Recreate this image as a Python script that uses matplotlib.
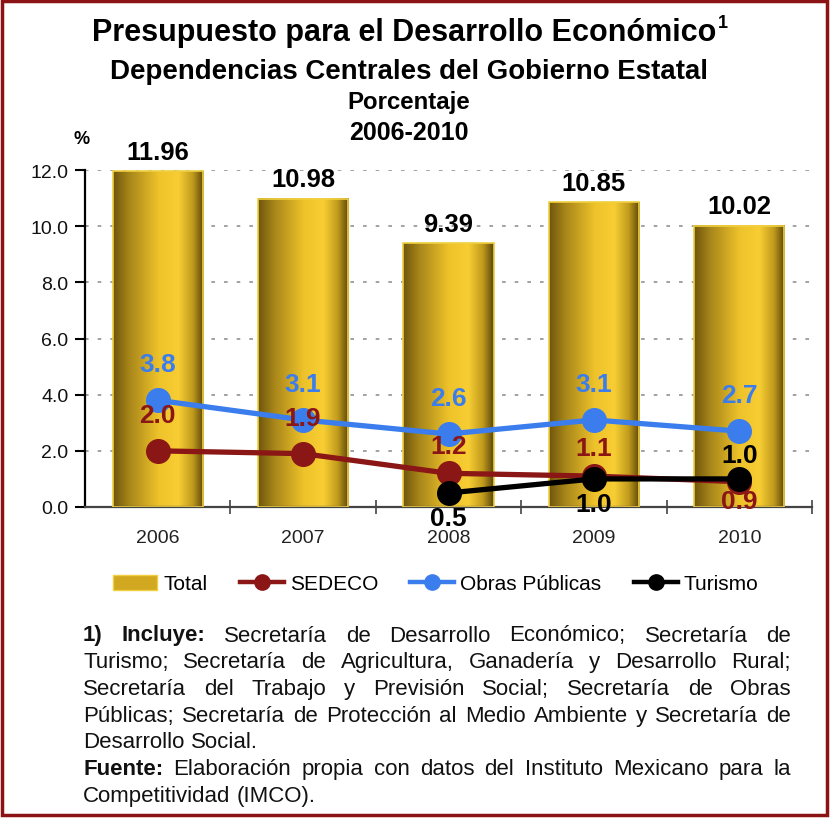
import numpy as np
import matplotlib
matplotlib.use('Agg')
import matplotlib.pyplot as plt
from matplotlib import font_manager
from matplotlib.colors import LinearSegmentedColormap
from matplotlib.patches import Patch, Rectangle
from matplotlib.lines import Line2D

#================ DATA =========================================================

years   = ['2006', '2007', '2008', '2009', '2010']
total   = [11.96, 10.98, 9.39, 10.85, 10.02]
sedeco  = [2.0, 1.9, 1.2, 1.1, 0.9]
obras   = [3.8, 3.1, 2.6, 3.1, 2.7]
turismo = [np.nan, np.nan, 0.5, 1.0, 1.0]

series_names = ['Total', 'SEDECO', 'Obras Públicas', 'Turismo']

title    = 'Presupuesto para el Desarrollo Económico'
subtitle = 'Dependencias Centrales del Gobierno Estatal'
unit     = 'Porcentaje'
period   = '2006-2010'

# footnote lines: (text, number of bold leading words, justified?)
note_lines = [
    ("1) Incluye: Secretaría de Desarrollo Económico; Secretaría de", 2, True),
    ("Turismo; Secretaría de Agricultura, Ganadería y Desarrollo Rural;", 0, True),
    ("Secretaría del Trabajo y Previsión Social; Secretaría de Obras", 0, True),
    ("Públicas; Secretaría de Protección al Medio Ambiente y Secretaría de", 0, True),
    ("Desarrollo Social.", 0, False),
    ("Fuente: Elaboración propia con datos del Instituto Mexicano para la", 1, True),
    ("Competitividad (IMCO).", 0, False),
]

#================ STYLE ========================================================

def pick(fams):
    for f in fams:
        try:
            font_manager.findfont(font_manager.FontProperties(family=f),
                                  fallback_to_default=False)
            return f, True
        except Exception:
            pass
    return 'Liberation Sans', False

NARROW, has_narrow = pick(['Liberation Sans Narrow', 'Arial Narrow'])
nscale = 1.0 if has_narrow else 0.9
REG = 'Liberation Sans'

blue  = '#3b7ded'
red   = '#8a1616'
black = '#000000'

# label offsets in points (positive = above the marker)
off_obras   = [26, 26, 26, 26, 26]
off_sedeco  = [26, 26, 20, 20, -14]
off_turismo = [0, 0, -18, -18, 17]

fig = plt.figure(figsize=(8.3, 8.2), dpi=100)
W, H = 830.0, 820.0

ax = fig.add_axes([85/W, 1-508/H, 727/W, 337/H])

x = np.arange(len(years))
w = 0.62

gold = LinearSegmentedColormap.from_list('gold', [
    (0.0, '#6f560c'), (0.18, '#a8861a'), (0.5, '#eec22a'),
    (0.72, '#f8ce34'), (0.88, '#c09a1c'), (1.0, '#5a440a')])
grad = np.linspace(0, 1, 256).reshape(1, -1)

for i, v in enumerate(total):
    ax.imshow(grad, cmap=gold, extent=[i - w/2, i + w/2, 0, v],
              aspect='auto', zorder=2, interpolation='bicubic')
    ax.bar(i, v, w, facecolor='none', edgecolor='#f0d040', lw=1.2, zorder=3)
    ax.annotate('%.2f' % v, (i, v), xytext=(0, 9), textcoords='offset points',
                ha='center', va='baseline', fontsize=20.5*nscale,
                fontweight='bold', family=NARROW, zorder=8)

ms = 17
lw = 3.8
ax.plot(x, obras, color=blue, lw=lw, marker='o', ms=ms, zorder=5)
ax.plot(x, sedeco, color=red, lw=lw, marker='o', ms=ms, zorder=6)
ax.plot(x, turismo, color=black, lw=lw, marker='o', ms=ms, zorder=7)

def labels(vals, offs, col):
    for i, v in enumerate(vals):
        if np.isnan(v):
            continue
        ax.annotate('%.1f' % v, (i, v), xytext=(0, offs[i]),
                    textcoords='offset points', ha='center', va='center',
                    fontsize=21*nscale, fontweight='bold', color=col,
                    family=NARROW, zorder=9)

labels(obras, off_obras, blue)
labels(sedeco, off_sedeco, red)
labels(turismo, off_turismo, black)

ax.set_xlim(-0.5, len(years) - 0.5)
ax.set_ylim(0, 12)
ax.set_yticks(np.arange(0, 12.1, 2))
ax.set_yticklabels(['%.1f' % t for t in np.arange(0, 12.1, 2)])
ax.set_xticks(x)
ax.set_xticklabels(years)
ax.set_xticks(x + 0.5, minor=True)
ax.tick_params(axis='x', which='major', length=0, pad=16, labelsize=14,
               labelcolor='#222222')
ax.tick_params(axis='x', which='minor', length=10, direction='inout',
               width=1.2, color='#444444')
ax.tick_params(axis='y', length=7, width=1.5, pad=5, labelsize=14,
               labelcolor='#111111')
for lab in ax.get_xticklabels() + ax.get_yticklabels():
    lab.set_family(REG)

ax.yaxis.grid(True, linestyle=(0, (2, 5)), color='#9a9a9a', lw=1.3)
ax.set_axisbelow(True)
for s in ['top', 'right']:
    ax.spines[s].set_visible(False)
ax.spines['left'].set_linewidth(1.6)
ax.spines['bottom'].set_linewidth(1.6)
ax.spines['bottom'].set_color('#444444')

# unit symbol
fig.text(82/W, 1-140/H, '%', ha='center', va='center', fontsize=13,
         fontweight='bold', family=REG)

#================ TITLES =======================================================

cx = 409/W
t = fig.text(cx - 5/W, 1-33/H, title, ha='center', va='center',
             fontsize=22*nscale/0.9, fontweight='bold', family=NARROW)
fig.text(cx, 1-72/H, subtitle, ha='center', va='center',
         fontsize=19.9*nscale/0.9, fontweight='bold', family=NARROW)
fig.text(cx, 1-103/H, unit, ha='center', va='center',
         fontsize=17.3*nscale/0.9, fontweight='bold', family=NARROW)
fig.text(cx, 1-133/H, period, ha='center', va='center',
         fontsize=18*nscale/0.9, fontweight='bold', family=NARROW)

renderer = fig.canvas.get_renderer()
bb = t.get_window_extent(renderer)
fig.text((bb.x1 + 2)/W, 1-24/H, '1', ha='left', va='center',
         fontsize=13*nscale/0.9, fontweight='bold', family=NARROW)

#================ LEGEND =======================================================

handles = [
    Patch(facecolor='#d2a820', edgecolor='#f0d040'),
    Line2D([], [], color=red, lw=3.2, marker='o', ms=11),
    Line2D([], [], color=blue, lw=3.2, marker='o', ms=11),
    Line2D([], [], color=black, lw=3.2, marker='o', ms=11),
]
fig.legend(handles, series_names, loc='center', bbox_to_anchor=(436/W, 1-585/H),
           ncol=4, frameon=False, prop={'family': REG, 'size': 15},
           handlelength=2.1, handletextpad=0.3, columnspacing=1.55)

#================ FOOTNOTE =====================================================

left, right = 83.0, 791.0
y0, dy = 636.0, 26.7
fs = 16

sp = fig.text(0, 0, 'a a', fontsize=fs, family=REG)
sa = fig.text(0, 0, 'aa', fontsize=fs, family=REG)
space = sp.get_window_extent(renderer).width - sa.get_window_extent(renderer).width
sp.remove()
sa.remove()

for k, (line, nbold, justify) in enumerate(note_lines):
    words = line.split(' ')
    y = 1 - (y0 + k*dy)/H
    objs = []
    widths = []
    for j, wd in enumerate(words):
        o = fig.text(0, y, wd, ha='left', va='center', fontsize=fs, family=REG,
                     fontweight='bold' if j < nbold else 'normal',
                     color='#111111')
        objs.append(o)
        widths.append(o.get_window_extent(renderer).width)
    if justify and len(words) > 1:
        gap = (right - left - sum(widths)) / (len(words) - 1)
    else:
        gap = space
    xp = left
    for o, wdt in zip(objs, widths):
        o.set_x(xp/W)
        xp += wdt + gap

# frame
fig.patches.append(Rectangle((2/W, 4/H), 825/W, 814/H, transform=fig.transFigure,
                             fill=False, edgecolor='#8b1313', lw=2.5))

fig.savefig('out.png', dpi=100)
